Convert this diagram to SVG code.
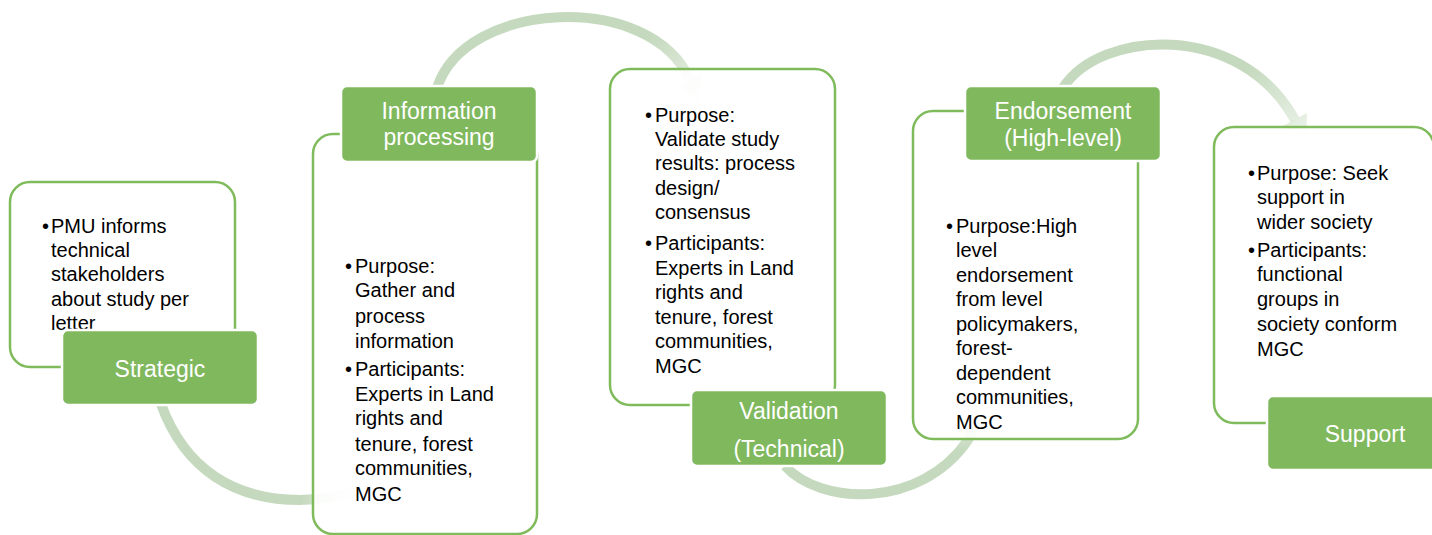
<svg xmlns="http://www.w3.org/2000/svg" width="1432" height="535" viewBox="0 0 1432 535">
<style>
.box{fill:#ffffff;fill-opacity:0.9;stroke:#7fba5b;stroke-width:2.5}
.lab{fill:#80b85e;stroke:#ffffff;stroke-width:2.5}
.lt{font-family:"Liberation Sans",Arial,sans-serif;font-size:23px;fill:#ffffff;text-anchor:middle}
.bt{font-family:"Liberation Sans",Arial,sans-serif;font-size:20px;fill:#000000}
.arr{fill:none;stroke-width:10}
</style>
<defs>
<linearGradient id="gA" gradientUnits="userSpaceOnUse" x1="300" y1="0" x2="370" y2="0">
<stop offset="0" stop-color="#c4d9bd" stop-opacity="1"/><stop offset="1" stop-color="#c4d9bd" stop-opacity="0.1"/>
</linearGradient>
<linearGradient id="gB" gradientUnits="userSpaceOnUse" x1="650" y1="35" x2="702" y2="105">
<stop offset="0" stop-color="#c4d9bd" stop-opacity="1"/><stop offset="1" stop-color="#c4d9bd" stop-opacity="0.3"/>
</linearGradient>
<linearGradient id="gC" gradientUnits="userSpaceOnUse" x1="0" y1="450" x2="0" y2="400">
<stop offset="0" stop-color="#c4d9bd" stop-opacity="1"/><stop offset="1" stop-color="#c4d9bd" stop-opacity="0.1"/>
</linearGradient>
<linearGradient id="gD" gradientUnits="userSpaceOnUse" x1="1255" y1="60" x2="1306" y2="140">
<stop offset="0" stop-color="#c4d9bd" stop-opacity="1"/><stop offset="1" stop-color="#c4d9bd" stop-opacity="0.3"/>
</linearGradient>
</defs>
<g id="connectors">
<path class="arr" stroke="url(#gA)" d="M161,404 C185,470 235,500 300,500 C325,500 345,496 368,488"/>
<path class="arr" stroke="url(#gB)" d="M437,88 C465,0 650,-10 690,80"/>
<polygon fill="url(#gB)" points="702,74 678,86 700,104"/>
<path class="arr" stroke="url(#gC)" d="M785,466 C820,505 920,510 968,440 C972,432 975,422 977,405"/>
<path class="arr" stroke="url(#gD)" d="M1063,88 C1100,30 1240,20 1295,120"/>
<polygon fill="url(#gD)" points="1307,113 1283,126 1306,141"/>
</g>
<g id="node-strategic">
<rect class="box" x="10" y="182" width="225" height="185" rx="20"/>
<text class="bt" x="42" y="233">•</text>
<text class="bt" x="51" y="233">PMU informs</text>
<text class="bt" x="51" y="257">technical</text>
<text class="bt" x="51" y="281">stakeholders</text>
<text class="bt" x="51" y="306">about study per</text>
<text class="bt" x="51" y="330">letter</text>
<rect class="lab" x="62" y="330" width="196" height="75" rx="6"/>
<text class="lt" x="160" y="377">Strategic</text>
</g>
<g id="node-information">
<rect class="box" x="313" y="134" width="224" height="400" rx="20"/>
<text class="bt" x="345" y="273">•</text>
<text class="bt" x="355" y="273">Purpose:</text>
<text class="bt" x="355" y="297">Gather and</text>
<text class="bt" x="355" y="323">process</text>
<text class="bt" x="355" y="348">information</text>
<text class="bt" x="345" y="376">•</text>
<text class="bt" x="355" y="376">Participants:</text>
<text class="bt" x="355" y="401">Experts in Land</text>
<text class="bt" x="355" y="425">rights and</text>
<text class="bt" x="355" y="451">tenure, forest</text>
<text class="bt" x="355" y="475">communities,</text>
<text class="bt" x="355" y="501">MGC</text>
<rect class="lab" x="341" y="86" width="196" height="76" rx="6"/>
<text class="lt" x="439" y="119">Information</text>
<text class="lt" x="439" y="145">processing</text>
</g>
<g id="node-validation">
<rect class="box" x="610" y="69" width="225" height="336" rx="20"/>
<text class="bt" x="645" y="122">•</text>
<text class="bt" x="655" y="122">Purpose:</text>
<text class="bt" x="655" y="146">Validate study</text>
<text class="bt" x="655" y="170">results: process</text>
<text class="bt" x="655" y="195">design/</text>
<text class="bt" x="655" y="219">consensus</text>
<text class="bt" x="645" y="250">•</text>
<text class="bt" x="655" y="250">Participants:</text>
<text class="bt" x="655" y="275">Experts in Land</text>
<text class="bt" x="655" y="299">rights and</text>
<text class="bt" x="655" y="324">tenure, forest</text>
<text class="bt" x="655" y="348">communities,</text>
<text class="bt" x="655" y="373">MGC</text>
<rect class="lab" x="691" y="390" width="196" height="76" rx="6"/>
<text class="lt" x="789" y="419">Validation</text>
<text class="lt" x="789" y="457">(Technical)</text>
</g>
<g id="node-endorsement">
<rect class="box" x="913" y="111" width="225" height="328" rx="20"/>
<text class="bt" x="946" y="233">•</text>
<text class="bt" x="956" y="233">Purpose:High</text>
<text class="bt" x="956" y="257">level</text>
<text class="bt" x="956" y="282">endorsement</text>
<text class="bt" x="956" y="306">from level</text>
<text class="bt" x="956" y="331">policymakers,</text>
<text class="bt" x="956" y="355">forest-</text>
<text class="bt" x="956" y="380">dependent</text>
<text class="bt" x="956" y="404">communities,</text>
<text class="bt" x="956" y="429">MGC</text>
<rect class="lab" x="965" y="86" width="196" height="75" rx="6"/>
<text class="lt" x="1063" y="119">Endorsement</text>
<text class="lt" x="1063" y="146">(High-level)</text>
</g>
<g id="node-support">
<rect class="box" x="1214" y="127" width="220" height="296" rx="20"/>
<text class="bt" x="1248" y="180">•</text>
<text class="bt" x="1257" y="180">Purpose: Seek</text>
<text class="bt" x="1257" y="204">support in</text>
<text class="bt" x="1257" y="229">wider society</text>
<text class="bt" x="1248" y="257">•</text>
<text class="bt" x="1257" y="257">Participants:</text>
<text class="bt" x="1257" y="281">functional</text>
<text class="bt" x="1257" y="306">groups in</text>
<text class="bt" x="1257" y="331">society conform</text>
<text class="bt" x="1257" y="356">MGC</text>
<rect class="lab" x="1267" y="396" width="196" height="74" rx="6"/>
<text class="lt" x="1365" y="442">Support</text>
</g>
</svg>
